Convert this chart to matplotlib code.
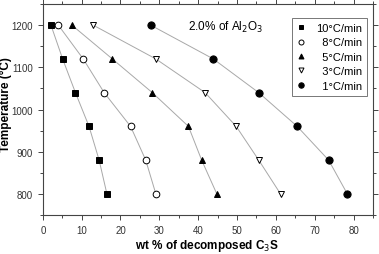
import matplotlib
matplotlib.use('Agg')
import matplotlib.pyplot as plt
from matplotlib.ticker import MultipleLocator

# data
temps = [1200, 1120, 1040, 960, 880, 800]
labels = ['10°C/min', '8°C/min', '5°C/min', '3°C/min', '1°C/min']
wt_10 = [2.1, 5.1, 8.4, 11.9, 14.5, 16.5]
wt_8 = [4.0, 10.4, 15.8, 22.6, 26.5, 29.1]
wt_5 = [7.5, 17.9, 28.2, 37.5, 40.9, 44.8]
wt_3 = [13.0, 29.1, 41.8, 49.8, 55.6, 61.2]
wt_1 = [27.8, 43.9, 55.6, 65.5, 73.6, 78.4]

series = [wt_10, wt_8, wt_5, wt_3, wt_1]
markers = ['s', 'o', '^', 'v', 'o']
filled = [True, False, True, False, True]
msizes = [4.3, 4.8, 4.8, 4.8, 5.2]

plt.rcParams['font.family'] = ['Liberation Sans', 'DejaVu Sans']

fig = plt.figure(figsize=(3.79, 2.55), dpi=100)
ax = fig.add_axes([0.113, 0.153, 0.871, 0.827])

# pad shorter labels with figure spaces so they line up on the right
width = max(len(l) for l in labels)
for wt, m, f, ms, lab in zip(series, markers, filled, msizes, labels):
    ax.plot(wt, temps, '-', color='#a8a8a8', linewidth=0.7, zorder=1)
    ax.plot(wt, temps, linestyle='none', marker=m, markersize=ms,
            markerfacecolor='black' if f else 'white', markeredgecolor='black',
            markeredgewidth=0.7, label='\u2007' * (width - len(lab)) + lab, zorder=2)

ax.set_xlim(0, 85)
ax.set_ylim(750, 1250)
ax.xaxis.set_major_locator(MultipleLocator(10))
ax.xaxis.set_minor_locator(MultipleLocator(5))
ax.yaxis.set_major_locator(MultipleLocator(100))
ax.yaxis.set_minor_locator(MultipleLocator(50))
ax.yaxis.set_major_formatter(plt.FormatStrFormatter('%d'))

ax.tick_params(axis='both', which='both', labelsize=7, labelcolor='#333333',
               color='#444444', width=0.7)
ax.tick_params(axis='both', which='major', length=3.5, direction='out')
ax.tick_params(axis='both', which='minor', length=2, direction='out')
ax.tick_params(axis='x', which='both', top=True, labeltop=False)
ax.tick_params(axis='y', which='both', right=True, labelright=False)
for s in ax.spines.values():
    s.set_color('#444444')
    s.set_linewidth(0.8)

ax.set_xlabel('wt % of decomposed C$_3$S', fontsize=8.5, fontweight='bold')
ax.set_ylabel('Temperature (°C)', fontsize=8.5, fontweight='bold')
ax.xaxis.set_label_coords(0.497, -0.105)
ax.yaxis.set_label_coords(-0.093, 0.53)

ax.text(0.44, 0.896, '2.0% of Al$_2$O$_3$', transform=ax.transAxes, fontsize=8.5,
        ha='left', va='center')

leg = ax.legend(loc='upper right', bbox_to_anchor=(0.982, 0.934), fontsize=8,
                frameon=True, fancybox=False, edgecolor='#555555', handlelength=0.8,
                handletextpad=0.9, borderpad=0.45, labelspacing=0.4, markerscale=0.75,
                borderaxespad=0)
leg.get_frame().set_linewidth(0.7)

fig.savefig('out.png', dpi=100)
